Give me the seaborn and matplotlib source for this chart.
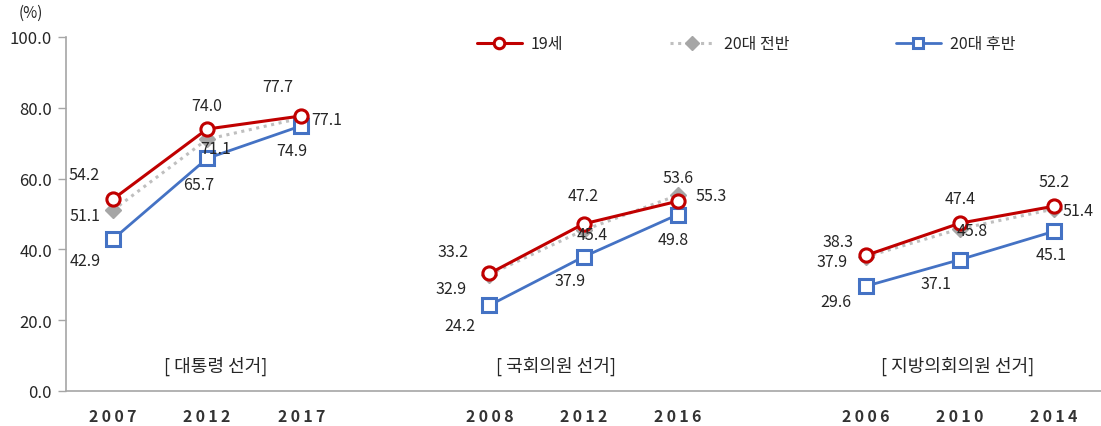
import matplotlib
matplotlib.use("Agg")
import matplotlib.pyplot as plt
import seaborn as sns
import pandas as pd

# Turnout by age group in three kinds of elections (%)
elections = ["[ 대통령 선거]", "[ 국회의원 선거]", "[ 지방의회의원 선거]"]
years_president = ["2007", "2012", "2017"]
years_assembly = ["2008", "2012", "2016"]
years_local = ["2006", "2010", "2014"]

series_names = ["19세", "20대 전반", "20대 후반"]
age19 = [54.2, 74.0, 77.7, 33.2, 47.2, 53.6, 38.3, 47.4, 52.2]
early20s = [51.1, 71.1, 77.1, 32.9, 45.4, 55.3, 37.9, 45.8, 51.4]
late20s = [42.9, 65.7, 74.9, 24.2, 37.9, 49.8, 29.6, 37.1, 45.1]

sns.set_theme(style="white")
plt.rcParams["font.family"] = ["Noto Sans CJK KR", "DejaVu Sans"]

TEXT = "#262626"
FS = 11.5

# Category slots: three years per election with an empty slot between groups
year_groups = [years_president, years_assembly, years_local]
slot_labels, slot_pos, slot_group = [], [], []
pos = 0
for g, yrs in enumerate(year_groups):
    for y in yrs:
        slot_labels.append(y)
        slot_pos.append(pos)
        slot_group.append(g)
        pos += 1
    pos += 1  # spacer slot

rows = []
for name, vals in zip(series_names, [age19, early20s, late20s]):
    for i, v in enumerate(vals):
        rows.append({"series": name, "pos": slot_pos[i], "group": slot_group[i],
                     "value": v, "idx": i})
df = pd.DataFrame(rows)

styles = {
    "19세": dict(color="#C00000", marker="o", markersize=9.5, markerfacecolor="white",
                markeredgecolor="#C00000", markeredgewidth=2.2, linewidth=2.2, linestyle="-"),
    "20대 전반": dict(color="#BFBFBF", marker="D", markersize=8.5, markerfacecolor="#A6A6A6",
                   markeredgecolor="#A6A6A6", markeredgewidth=1, linewidth=2.2, linestyle=(0, (1, 1.5))),
    "20대 후반": dict(color="#4472C4", marker="s", markersize=9.5, markerfacecolor="white",
                   markeredgecolor="#4472C4", markeredgewidth=2.2, linewidth=2.0, linestyle="-"),
}

# label offsets in pixels (dx, dy) for each point of each series
label_offsets = {
    "19세": [(-29, 25), (0, 24), (-23, 29), (-36, 22), (0, 28), (0, 24), (-28, 14), (0, 25), (0, 25)],
    "20대 전반": [(-28, -5), (8, -9), (25, -1), (-38, -14), (9, -4), (34, 0), (-34, -5), (12, -2), (24, -1)],
    "20대 후반": [(-28, -21), (-8, -26), (-9, -25), (-30, -20), (-13, -24), (-4, -25), (-30, -15), (-24, -24), (-3, -23)],
}

fig = plt.figure(figsize=(11.01, 4.27), dpi=100)
ax = fig.add_axes([66 / 1101, 35 / 427, 1 - 66 / 1101, (392 - 38) / 427])

draw_order = ["20대 후반", "20대 전반", "19세"]
for name in draw_order:
    sub = df[df["series"] == name]
    for g in range(3):
        part = sub[sub["group"] == g]
        sns.lineplot(data=part, x="pos", y="value", ax=ax, estimator=None,
                     label=name if g == 0 else None, legend=False,
                     zorder=3 if name != "20대 전반" else 2.5, **styles[name])
    for _, r in sub.iterrows():
        dx, dy = label_offsets[name][int(r["idx"])]
        ax.annotate(f"{r['value']:.1f}", (r["pos"], r["value"]), xytext=(dx, dy),
                    textcoords="offset pixels", ha="center", va="center",
                    fontsize=FS, color=TEXT, zorder=5)

# Election names inside the plot
group_label_x = [1.09, 4.71, 8.98]
for gx, txt in zip(group_label_x, elections):
    ax.text(gx, 7.1, txt, ha="center", va="center", fontsize=13, color=TEXT)

ax.set_ylim(0, 100)
ax.set_xlim(-0.5, 10.455)
ax.set_yticks(range(0, 101, 20))
ax.set_yticklabels([f"{v:.1f}" for v in range(0, 101, 20)], fontsize=12, color=TEXT)
ax.set_xticks(slot_pos)
ax.set_xticklabels(["\u2009".join(s) for s in slot_labels], fontsize=11.5,
                   fontweight="bold", color="#333333")
ax.set_xticks([k - 0.5 for k in range(1, 12)], minor=True)
ax.tick_params(axis="x", which="major", length=0, pad=12)
ax.tick_params(axis="x", which="minor", length=5, color="#A6A6A6", width=1, direction="out")
ax.tick_params(axis="y", length=6, color="#A6A6A6", width=1, direction="out", pad=4, left=True)
ax.set_xlabel("")
ax.set_ylabel("")
for side in ["top", "right"]:
    ax.spines[side].set_visible(False)
for side in ["left", "bottom"]:
    ax.spines[side].set_color("#A6A6A6")
    ax.spines[side].set_linewidth(1.2)

fig.text(31 / 1101, 1 - 13 / 427, "(%)", ha="center", va="center", fontsize=11, color=TEXT)

handles, labels = ax.get_legend_handles_labels()
order = [labels.index(n) for n in series_names]
ax.legend([handles[i] for i in order], [labels[i] for i in order],
          loc="center", bbox_to_anchor=(746 / 1101, 1 - 45 / 427), bbox_transform=fig.transFigure,
          ncol=3, frameon=False, fontsize=FS, handlelength=2.8, columnspacing=6.7,
          handletextpad=0.55, markerscale=0.8)

fig.savefig("out.png", dpi=100)
